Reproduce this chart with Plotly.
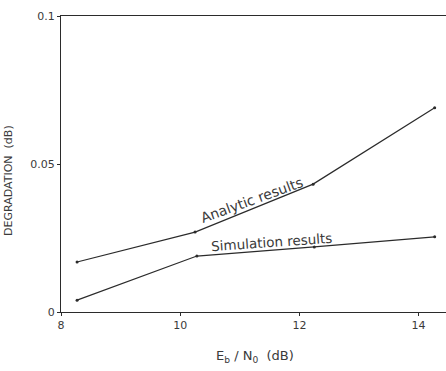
import plotly.graph_objects as go

ebno_analytic = [8.27, 10.25, 12.23, 14.27]
deg_analytic = [0.0169, 0.0270, 0.0432, 0.0690]
ebno_sim = [8.27, 10.28, 12.25, 14.27]
deg_sim = [0.0040, 0.0189, 0.0220, 0.0254]
x_ticks = [8, 10, 12, 14]
y_ticks = [0, 0.05, 0.1]
y_tick_labels = ["0", "0.05", "0.1"]

ink = "#2b2b2b"
txt = "#3a3a3a"
fig = go.Figure()
fig.add_trace(go.Scatter(x=ebno_analytic, y=deg_analytic, mode="lines+markers",
                         line=dict(color=ink, width=1.2), marker=dict(size=3, color=ink),
                         showlegend=False))
fig.add_trace(go.Scatter(x=ebno_sim, y=deg_sim, mode="lines+markers",
                         line=dict(color=ink, width=1.2), marker=dict(size=3, color=ink),
                         showlegend=False))

fig.add_annotation(x=11.2, y=0.0378, text="Analytic results", showarrow=False,
                   textangle=-20, font=dict(size=14, color=txt))
fig.add_annotation(x=11.53, y=0.0236, text="Simulation results", showarrow=False,
                   textangle=-4, font=dict(size=13.5, color=txt))

# axis titles placed as annotations to match the reference positions
fig.add_annotation(xref="paper", yref="paper", x=0.505, y=-0.152,
                   text="E<sub>b</sub> / N<sub>0</sub>  (dB)", showarrow=False,
                   xanchor="center", yanchor="middle", font=dict(size=13, color=txt))
fig.add_annotation(xref="paper", yref="paper", x=-0.135, y=0.443,
                   text="DEGRADATION  (dB)", showarrow=False, textangle=-90,
                   xanchor="center", yanchor="middle", font=dict(size=11, color=txt))

fig.update_layout(
    width=446, height=371,
    margin=dict(l=61, r=0, t=16, b=59),
    paper_bgcolor="white", plot_bgcolor="white",
    font=dict(family="DejaVu Sans", size=11, color=txt),
    xaxis=dict(range=[8, 14.46], tickvals=x_ticks, showgrid=False, zeroline=False,
               showline=True, linecolor=ink, linewidth=1.2, mirror=True,
               ticks="outside", ticklen=3, tickcolor=ink),
    yaxis=dict(range=[0, 0.1], tickvals=y_ticks, ticktext=y_tick_labels,
               showgrid=False, zeroline=False, showline=True, linecolor=ink,
               linewidth=1.2, ticks="outside", ticklen=3, tickcolor=ink),
)
fig.write_html("out.html", config={"displayModeBar": False},
               post_script="document.body.style.margin='0';document.body.style.overflow='hidden';")
